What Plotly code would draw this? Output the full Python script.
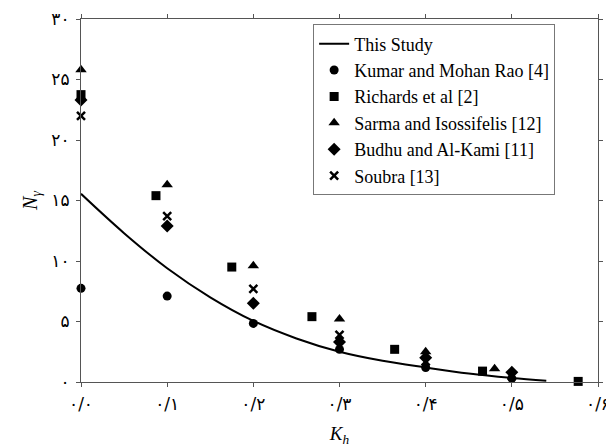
import plotly.graph_objects as go

# ---- data ----
study_kh = [0.0, 0.05, 0.1, 0.15, 0.2, 0.25, 0.3, 0.35, 0.4, 0.45, 0.5, 0.54]
study_n = [15.55, 12.3, 9.4, 7.0, 5.05, 3.6, 2.5, 1.75, 1.2, 0.7, 0.33, 0.1]

kumar_kh = [0.0, 0.1, 0.2, 0.3, 0.4, 0.5]
kumar_n = [7.74, 7.1, 4.84, 2.7, 1.2, 0.3]

richards_kh = [0.0, 0.087, 0.175, 0.268, 0.364, 0.466, 0.577]
richards_n = [23.75, 15.4, 9.5, 5.4, 2.7, 0.9, 0.05]

sarma_kh = [0.0, 0.1, 0.2, 0.3, 0.4, 0.48]
sarma_n = [25.8, 16.3, 9.6, 5.2, 2.5, 1.1]

budhu_kh = [0.0, 0.1, 0.2, 0.3, 0.4, 0.5]
budhu_n = [23.3, 12.9, 6.5, 3.3, 2.0, 0.8]

soubra_kh = [0.0, 0.1, 0.2, 0.3, 0.4, 0.5]
soubra_n = [22.0, 13.7, 7.7, 3.9, 1.7, 0.5]

x_tickvals = [0.0, 0.1, 0.2, 0.3, 0.4, 0.5, 0.6]
x_ticktext = ["۰/۰", "۰/۱", "۰/۲", "۰/۳", "۰/۴", "۰/۵", "۰/۶"]
y_tickvals = [0, 5, 10, 15, 20, 25, 30]
y_ticktext = ["۰", "۵", "۱۰", "۱۵", "۲۰", "۲۵", "۳۰"]

names = ["This Study", "Kumar and Mohan Rao [4]", "Richards et al [2]",
         "Sarma and Isossifelis [12]", "Budhu and Al-Kami [11]", "Soubra [13]"]

SERIF = "Liberation Serif, Times New Roman, serif"

fig = go.Figure()
fig.add_trace(go.Scatter(x=study_kh, y=study_n, mode="lines", name=names[0],
                         line=dict(color="black", width=2, shape="spline")))
series = [
    (kumar_kh, kumar_n, "circle", 9),
    (richards_kh, richards_n, "square", 9),
    (sarma_kh, sarma_n, "triangle-up", 10),
    (budhu_kh, budhu_n, "diamond", 10),
    (soubra_kh, soubra_n, "x-thin", 8),
]
for (xs, ys, sym, sz), nm in zip(series, names[1:]):
    mk = dict(symbol=sym, size=sz, color="black")
    if sym == "x-thin":
        mk["line"] = dict(width=2.5, color="black")
    fig.add_trace(go.Scatter(x=xs, y=ys, mode="markers", name=nm, marker=mk,
                             cliponaxis=False))

axis_common = dict(showline=True, linecolor="#555", linewidth=1, mirror="ticks",
                   ticks="outside", ticklen=4, tickcolor="#555", showgrid=False,
                   zeroline=False, automargin=False, ticklabelstandoff=3,
                   tickfont=dict(family="DejaVu Sans", size=17, color="black"))

fig.update_xaxes(range=[0, 0.6], tickvals=x_tickvals, ticktext=x_ticktext,
                 title=dict(text="<i>K<sub>h</sub></i>", standoff=13,
                            font=dict(family=SERIF, size=19, color="black")),
                 **axis_common)
fig.update_yaxes(range=[0, 30], tickvals=y_tickvals, ticktext=y_ticktext,
                 title=dict(text="<i>N<sub>γ</sub></i>", standoff=8,
                            font=dict(family=SERIF, size=20, color="black")),
                 **axis_common)

# page body adds an 8px margin, so the figure is sized to fit the 614x448 window
fig.update_layout(
    width=606, height=440,
    margin=dict(l=73, r=16, t=11, b=66),
    paper_bgcolor="white", plot_bgcolor="white",
    font=dict(family=SERIF, color="black"),
    legend=dict(x=0.449, y=0.985, xanchor="left", yanchor="top",
                bgcolor="white", bordercolor="#777", borderwidth=1,
                font=dict(family=SERIF, size=18, color="black"),
                itemwidth=30, tracegroupgap=0),
    showlegend=True,
)

fig.write_html("out.html")
